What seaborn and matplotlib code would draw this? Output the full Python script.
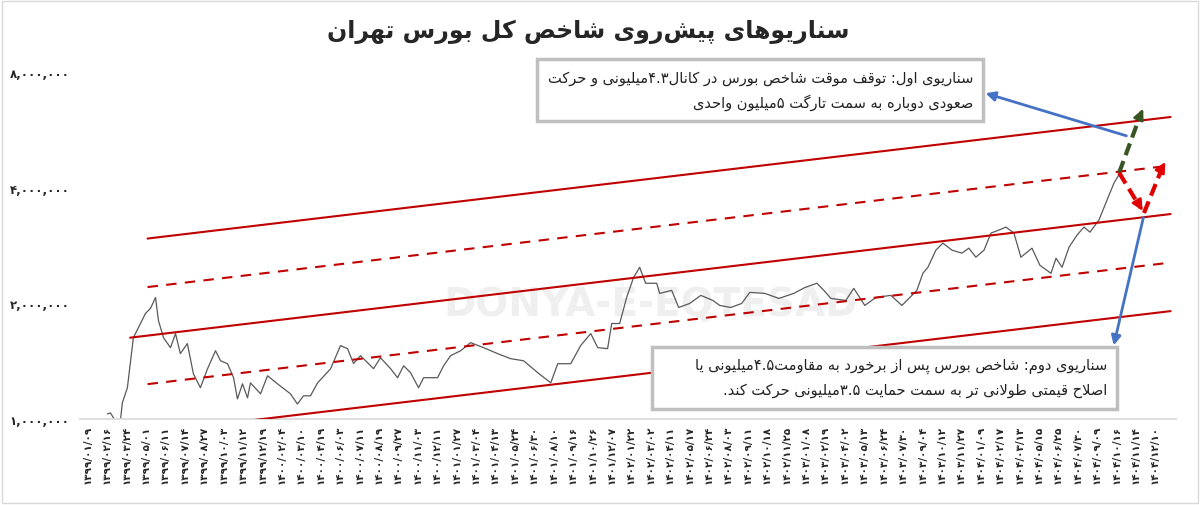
import re
import numpy as np
import pandas as pd
import seaborn as sns
import matplotlib
matplotlib.use("Agg")
import matplotlib.pyplot as plt
from matplotlib.patches import Rectangle

# ---------------- data ----------------
tick_dates = ["1399/01/09", "1399/02/16", "1399/03/24", "1399/05/01", "1399/06/11", "1399/07/14",
              "1399/08/27", "1399/10/03", "1399/11/12", "1399/12/19", "1400/02/04", "1400/03/10",
              "1400/04/19", "1400/06/03", "1400/07/11", "1400/08/19", "1400/09/27", "1400/11/03",
              "1400/12/11", "1401/01/27", "1401/03/04", "1401/04/13", "1401/05/24", "1401/06/30",
              "1401/08/10", "1401/09/16", "1401/10/26", "1401/12/07", "1402/01/22", "1402/03/02",
              "1402/04/11", "1402/05/17", "1402/06/24", "1402/08/03", "1402/09/11", "1402/10/18",
              "1402/11/25", "1403/01/08", "1403/02/19", "1403/04/02", "1403/05/13", "1403/06/24",
              "1403/07/30", "1403/09/04", "1403/10/12", "1403/11/27", "1404/01/09", "1404/02/17",
              "1404/03/13", "1404/05/15", "1404/06/25", "1404/07/30", "1404/09/09", "1404/10/16",
              "1404/11/14", "1404/12/10"]

# position along date axis (in tick units) and index value (thousand points)
idx_pos = [1.03, 1.19, 1.44, 1.70, 1.80, 2.06, 2.37, 2.63, 2.99, 3.25, 3.51, 3.66, 3.92, 4.28, 4.54,
           4.79, 5.15, 5.46, 5.82, 6.19, 6.60, 6.86, 7.22, 7.53, 7.73, 7.99, 8.25, 8.40, 8.92, 9.28,
           9.79, 10.46, 10.82, 11.13, 11.49, 11.86, 12.53, 13.04, 13.40, 13.71, 14.07, 14.43, 14.74,
           15.10, 15.62, 15.98, 16.29, 16.65, 17.06, 17.32, 18.04, 18.35, 18.71, 19.23, 19.74, 20.41,
           21.13, 21.80, 22.47, 23.20, 23.87, 24.23, 24.90, 25.41, 25.93, 26.29, 26.80,
           27.01, 27.42, 27.78, 28.14, 28.45, 28.76, 29.33, 29.48, 30.10, 30.46, 31.03, 31.60, 32.22,
           32.58, 33.14, 33.71, 34.12, 34.90, 35.62, 36.39, 36.96, 37.58, 37.94, 38.30, 39.07, 39.48,
           40.05, 40.62, 41.39, 41.96, 42.37, 42.73, 43.04, 43.30, 43.71, 44.07, 44.54, 45.05, 45.41,
           45.77, 46.19, 46.55, 46.96, 47.32, 47.73, 48.09, 48.66, 49.07, 49.64, 49.90, 50.21, 50.57,
           50.98, 51.34, 51.65, 52.11, 52.53, 52.89, 53.20]
idx_val = [1031, 1037, 988, 988, 1101, 1206, 1629, 1730, 1883, 1941, 2073, 1805, 1629, 1534, 1669,
           1480, 1572, 1312, 1206, 1352, 1506, 1418, 1393, 1281, 1128, 1235, 1135, 1242, 1163, 1296,
           1235, 1163, 1094, 1149, 1149, 1242, 1352, 1553, 1525, 1395, 1462, 1402, 1352,
           1444, 1352, 1281, 1376, 1320, 1206, 1281, 1281, 1376, 1462, 1506, 1581, 1534,
           1480, 1436, 1418, 1320, 1242, 1393, 1393, 1553, 1669, 1534, 1525,
           1773, 1773, 2073, 2339, 2484, 2257, 2257, 2124, 2163, 1952, 2000, 2099, 2036,
           1976, 1952, 2000, 2137, 2124, 2061, 2124, 2200, 2257, 2163, 2061, 2036, 2189,
           1976, 2073, 2099, 1976, 2073, 2163, 2396, 2484, 2753, 2872, 2753, 2704, 2786,
           2639, 2753, 3050, 3106, 3162, 3050, 2639, 2786, 2514, 2396, 2623, 2484, 2803,
           3013, 3162, 3067, 3299, 3722, 4122, 4378]

# channel: log2 offsets from middle line, start position, dashed?
chan_offsets = [-0.84, -0.42, 0.0, 0.42, 0.84]
chan_start = [3.6, 3.1, 2.2, 3.1, 3.1]
chan_dashed = [False, True, False, True, False]
chan_base_pos, chan_base_val, chan_end = 2.22, 1629, 55.8
chan_slope = 0.01996  # log2 per tick unit

y_ticks = [1000000, 2000000, 4000000, 8000000]

title = "سناریوهای پیش‌روی شاخص کل بورس تهران"
box1 = ["سناریوی اول: توقف موقت شاخص بورس در کانال۴.۳میلیونی و حرکت",
        "صعودی دوباره به سمت تارگت ۵میلیون واحدی"]
box2 = ["سناریوی دوم: شاخص بورس پس از برخورد به مقاومت۴.۵میلیونی یا",
        "اصلاح قیمتی طولانی تر به سمت حمایت ۳.۵میلیونی حرکت کند."]

# ---------------- minimal Persian shaping ----------------
FORMS = {  # iso, fin, ini, med
    'ا': (0xFE8D, 0xFE8E, None, None), 'آ': (0xFE81, 0xFE82, None, None),
    'ب': (0xFE8F, 0xFE90, 0xFE91, 0xFE92), 'پ': (0xFB56, 0xFB57, 0xFB58, 0xFB59),
    'ت': (0xFE95, 0xFE96, 0xFE97, 0xFE98), 'ث': (0xFE99, 0xFE9A, 0xFE9B, 0xFE9C),
    'ج': (0xFE9D, 0xFE9E, 0xFE9F, 0xFEA0), 'چ': (0xFB7A, 0xFB7B, 0xFB7C, 0xFB7D),
    'ح': (0xFEA1, 0xFEA2, 0xFEA3, 0xFEA4), 'خ': (0xFEA5, 0xFEA6, 0xFEA7, 0xFEA8),
    'د': (0xFEA9, 0xFEAA, None, None), 'ذ': (0xFEAB, 0xFEAC, None, None),
    'ر': (0xFEAD, 0xFEAE, None, None), 'ز': (0xFEAF, 0xFEB0, None, None),
    'ژ': (0xFB8A, 0xFB8B, None, None),
    'س': (0xFEB1, 0xFEB2, 0xFEB3, 0xFEB4), 'ش': (0xFEB5, 0xFEB6, 0xFEB7, 0xFEB8),
    'ص': (0xFEB9, 0xFEBA, 0xFEBB, 0xFEBC), 'ض': (0xFEBD, 0xFEBE, 0xFEBF, 0xFEC0),
    'ط': (0xFEC1, 0xFEC2, 0xFEC3, 0xFEC4), 'ظ': (0xFEC5, 0xFEC6, 0xFEC7, 0xFEC8),
    'ع': (0xFEC9, 0xFECA, 0xFECB, 0xFECC), 'غ': (0xFECD, 0xFECE, 0xFECF, 0xFED0),
    'ف': (0xFED1, 0xFED2, 0xFED3, 0xFED4), 'ق': (0xFED5, 0xFED6, 0xFED7, 0xFED8),
    'ک': (0xFB8E, 0xFB8F, 0xFB90, 0xFB91), 'گ': (0xFB92, 0xFB93, 0xFB94, 0xFB95),
    'ل': (0xFEDD, 0xFEDE, 0xFEDF, 0xFEE0), 'م': (0xFEE1, 0xFEE2, 0xFEE3, 0xFEE4),
    'ن': (0xFEE5, 0xFEE6, 0xFEE7, 0xFEE8), 'و': (0xFEED, 0xFEEE, None, None),
    'ه': (0xFEE9, 0xFEEA, 0xFEEB, 0xFEEC), 'ی': (0xFBFC, 0xFBFD, 0xFBFE, 0xFBFF),
}


def dual(c):
    return c in FORMS and FORMS[c][2] is not None


def shape(s):
    out = []
    i = 0
    n = len(s)
    while i < n:
        c = s[i]
        if c not in FORMS:
            if c != '\u200c':
                out.append(c)
            i += 1
            continue
        jp = i > 0 and dual(s[i - 1])
        if c == 'ل' and i + 1 < n and s[i + 1] == 'ا':
            out.append(chr(0xFEFC if jp else 0xFEFB))
            i += 2
            continue
        jn = dual(c) and i + 1 < n and s[i + 1] in FORMS
        f = FORMS[c]
        if jp and jn:
            out.append(chr(f[3]))
        elif jp:
            out.append(chr(f[1]))
        elif jn:
            out.append(chr(f[2]))
        else:
            out.append(chr(f[0]))
        i += 1
    return ''.join(out)


def rtl(s):
    sh = shape(s)
    toks = re.findall(r'[0-9۰-۹](?:[0-9۰-۹.,/]*[0-9۰-۹])?|.', sh)
    return ''.join(reversed(toks))


FA = str.maketrans('0123456789', '۰۱۲۳۴۵۶۷۸۹')

# ---------------- plot ----------------
sns.set_theme(style="white")
plt.rcParams['font.family'] = ['DejaVu Sans', 'Noto Sans']

fig = plt.figure(figsize=(12, 5.06), dpi=100)
ax = fig.add_axes([0.067, 0.170, 0.913, 0.707])

df = pd.DataFrame({"pos": idx_pos, "val": np.array(idx_val) * 1000})
sns.lineplot(data=df, x="pos", y="val", ax=ax, color="#595959", lw=0.9)

for off, st, dsh in zip(chan_offsets, chan_start, chan_dashed):
    xs = np.array([st, chan_end])
    ys = chan_base_val * 1000 * 2 ** (chan_slope * (xs - chan_base_pos) + off)
    ax.plot(xs, ys, color="#c00000", lw=1.5, ls=(0, (5, 4)) if dsh else '-', zorder=3)

ax.set_yscale('log', base=2)
ax.set_ylim(1e6, 8.55e6)
ax.set_xlim(-0.36, 56.08)
ax.set_yticks(y_ticks)
ax.set_yticklabels([f"{v:,}".translate(FA) for v in y_ticks], fontsize=8.5, fontweight='bold')
ax.yaxis.set_minor_locator(matplotlib.ticker.NullLocator())
ax.set_xticks(range(len(tick_dates)))
ax.set_xticklabels([d.translate(FA) for d in tick_dates], rotation=90, fontsize=7.5, fontweight='bold')
ax.tick_params(axis='both', length=0, pad=4)
ax.tick_params(axis='y', pad=8)
ax.set_xlabel("")
ax.set_ylabel("")
for s in ['top', 'right', 'left']:
    ax.spines[s].set_visible(False)
ax.spines['bottom'].set_color('#d9d9d9')

# watermark
ax.text(0.52, 0.32, "DONYA-E-EQTESAD", transform=ax.transAxes, fontsize=28, fontweight='bold',
        color='#efefef', ha='center', va='center', zorder=0)

# scenario arrows
def M(v):
    return v * 1e6

ax.plot([53.15, 54.3], [M(4.38), M(6.3)], color="#375623", lw=3, ls=(0, (3, 1.5)), zorder=4)
ax.annotate("", xy=(54.44, M(6.52)), xytext=(54.25, M(6.2)),
            arrowprops=dict(arrowstyle='-|>', color="#375623", lw=2, mutation_scale=15), zorder=4)
ax.plot([53.15, 54.25], [M(4.38), M(3.55)], color="#e00000", lw=3, ls=(0, (3, 1.5)), zorder=4)
ax.annotate("", xy=(54.43, M(3.44)), xytext=(54.2, M(3.6)),
            arrowprops=dict(arrowstyle='-|>', color="#e00000", lw=2, mutation_scale=15), zorder=4)
ax.plot([54.43, 55.4], [M(3.44), M(4.55)], color="#e00000", lw=3, ls=(0, (3, 1.5)), zorder=4)
ax.annotate("", xy=(55.6, M(4.74)), xytext=(55.35, M(4.5)),
            arrowprops=dict(arrowstyle='-|>', color="#e00000", lw=2, mutation_scale=15), zorder=4)
ax.annotate("", xy=(46.13, M(7.09)), xytext=(53.66, M(5.44)),
            arrowprops=dict(arrowstyle='-|>', color="#4472c4", lw=2, mutation_scale=14), zorder=4)
ax.annotate("", xy=(52.84, M(1.53)), xytext=(54.43, M(3.40)),
            arrowprops=dict(arrowstyle='-|>', color="#4472c4", lw=2, mutation_scale=14), zorder=4)

# boxes
def box(x0, y0, x1, y1, lines):
    W, H = 1200, 506
    fig.patches.append(Rectangle((x0 / W, 1 - y1 / H), (x1 - x0) / W, (y1 - y0) / H,
                                 transform=fig.transFigure, facecolor='white',
                                 edgecolor='#bfbfbf', lw=2.5, zorder=5))
    for k, ln in enumerate(lines):
        fig.text((x1 - 10) / W, 1 - (y0 + 18 + k * 25) / H, rtl(ln), ha='right', va='center',
                 fontsize=10.5, color='#222222', zorder=6)

box(537, 60, 983, 122, box1)
box(652, 348, 1117, 410, box2)

fig.text(0.49, 0.937, rtl(title), ha='center', va='center', fontsize=17, fontweight='bold')
fig.patches.append(Rectangle((0.002, 0.003), 0.996, 0.994, transform=fig.transFigure,
                             fill=False, edgecolor='#d9d9d9', lw=1))

fig.savefig("out.png", dpi=100)
